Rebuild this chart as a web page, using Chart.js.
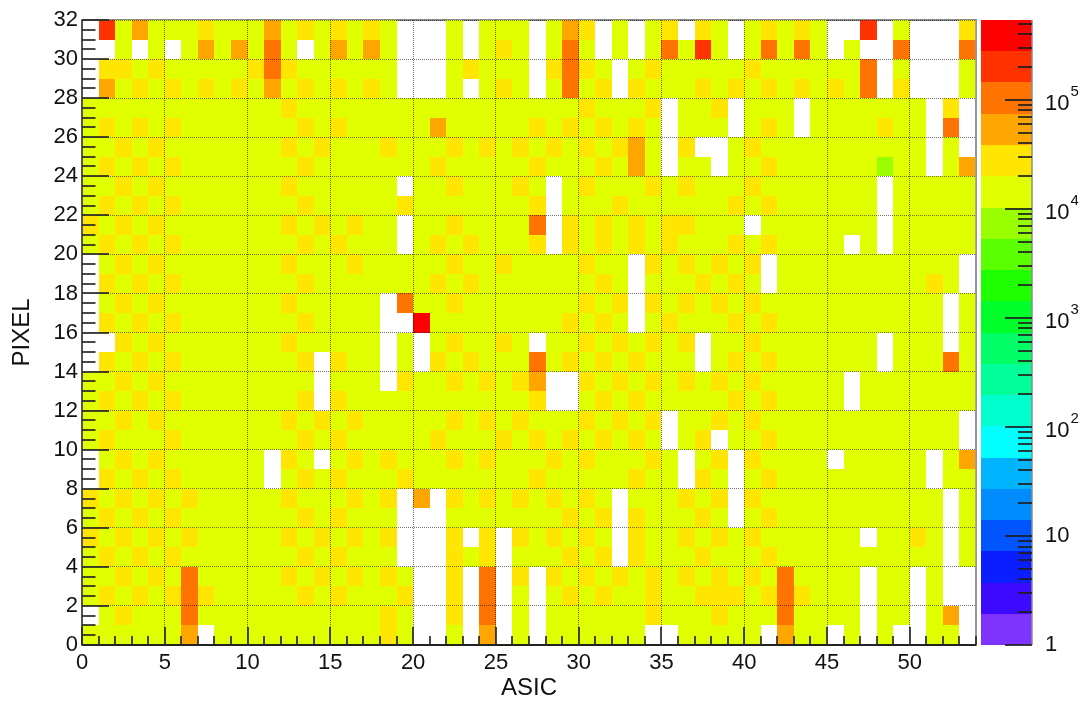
<!DOCTYPE html>
<html><head><meta charset="utf-8">
<script src="https://cdn.jsdelivr.net/npm/chart.js@4"></script>
<style>html,body{margin:0;padding:0;background:#fff;}canvas{display:block;}</style>
</head><body>
<canvas id="c" width="1081" height="701" style="width:1081px;height:701px"></canvas>
<script>
// ---- categories ----
const asics = Array.from({length: 54}, (_, i) => i);     // ASIC index 0..53
const pixels = Array.from({length: 32}, (_, i) => i);    // PIXEL index 0..31
// ---- tick labels ----
const xTickLabels = ['0','5','10','15','20','25','30','35','40','45','50'];
const yTickLabels = ['0','2','4','6','8','10','12','14','16','18','20','22','24','26','28','30','32'];
const zTickValues = [1, 10, 100, 1000, 10000, 100000];
const zTickBase = ['1','10','10','10','10','10'];
const zTickExp  = ['','','2','3','4','5'];
const levelValues = { w: 0, l: 8.0e3, g: 1.5e4, y: 2.8e4, a: 5.5e4, o: 1.05e5, r: 2.0e5, R: 3.8e5 };
// rows: PIXEL 31 (top) down to PIXEL 0 (bottom); one char per ASIC 0..53
const hitRows = [
  "wrgagggygg"+"gagygygygw"+"wwgwgggwga"+"ywgwgywygw"+"gygygwwrwg"+"wwwy", // 31
  "wwgwgwgaga"+"gogwgagagw"+"wwgwgygwgo"+"gwgwgogrgw"+"gogogwgwwo"+"wwwo", // 30
  "wyygyggggg"+"yoyggggggw"+"wwgygggwyo"+"ygwgyggggg"+"yggggggowg"+"wwwg", // 29
  "wagygygygy"+"gagygygygw"+"wwgwgygwgo"+"gywygggygy"+"gygygygowy"+"wwwg", // 28
  "gggggggggg"+"ggyggggggg"+"gggggggggg"+"ygggywggyw"+"gggwgggggg"+"gwyw", // 27
  "gygygygggg"+"gggygygggg"+"gagggggygy"+"gygygwgggw"+"gygwggggyg"+"gwow", // 26
  "ggygyggggg"+"ggygygggyg"+"ggygygygyg"+"ygyagwywwg"+"yggggggggg"+"gwgw", // 25
  "gygygygggg"+"gggygggggg"+"gygggggygg"+"gygagwggwg"+"gygggggglg"+"gwga", // 24
  "ggygyggggg"+"ggyggggggw"+"ggygggygwg"+"ygggygyggg"+"ygggggggwg"+"gggg", // 23
  "gygygygggg"+"gggygggggy"+"gggggggywg"+"ggyggggggy"+"gyggggggwg"+"gggg", // 22
  "ygygyggggg"+"ggygygyggw"+"ggyggggowy"+"gygygyyggg"+"wgggggggwg"+"gggg", // 21
  "gygygygggg"+"gggygygggw"+"gygygggywy"+"gygygygggy"+"gyggggwgwg"+"gggg", // 20
  "wgygyggggg"+"ggygggyggg"+"ggyggygggg"+"yggwygygyg"+"ywgggggggg"+"gggw", // 19
  "wygygygggg"+"gggygggggg"+"gygygggggg"+"gygwgggygy"+"gwgggggggg"+"gygw", // 18
  "wgygyggggg"+"ggygggggwo"+"ggyggggggg"+"ygywygygyg"+"yggggggggg"+"ggwg", // 17
  "wygygygggg"+"gggyggggww"+"Rggggggggy"+"gygwgygggy"+"gygggggggg"+"ggwg", // 16
  "wwygyggggg"+"ggygggggwg"+"wgyggygwgg"+"ygygygywgg"+"ygggggggwg"+"ggwg", // 15
  "wygygygggg"+"gggywyggwg"+"wygygggogy"+"gygygggwgy"+"gyggggggwg"+"ggog", // 14
  "ggygyggggg"+"ggggwgggwy"+"ggygygyaww"+"ygygygygyg"+"ygggggwggg"+"gggg", // 13
  "gygygygggg"+"gggywygggg"+"gggggggyww"+"gygygggggy"+"gyggggwggg"+"gggg", // 12
  "ggygyggggg"+"ggygygyggg"+"ggygygyggg"+"ygygywggyg"+"yggggggggg"+"gggw", // 11
  "gygggygggg"+"gggygygggg"+"gygggygygy"+"gygygwgywg"+"gygggggggg"+"gggw", // 10
  "wgygyggggg"+"gwygwgygyg"+"ggygygggyg"+"ygggygwgyw"+"yggggwgggg"+"gwga", // 9
  "wygygygggg"+"gwgygygggy"+"gggggggygg"+"gggyggwygw"+"gygggggggg"+"gwgg", // 8
  "ygygygyggg"+"ggygggygyw"+"awygygygyg"+"ygwgggygyw"+"yggggggggg"+"ggwg", // 7
  "gygygygggg"+"gggygygggw"+"wwgggggggy"+"gywygggygw"+"gygggggggg"+"ggwg", // 6
  "ygygygyggg"+"ggygygygyw"+"wwywywygyg"+"ygwyggygyg"+"yggggggwgg"+"ygwg", // 5
  "gygygygggg"+"gggygygggw"+"wwygywgggy"+"gywygggygg"+"gygggggggg"+"ggwg", // 4
  "ggygygoggg"+"ggygygygyg"+"wwywowywyg"+"ygygygygyg"+"ygoggggwgg"+"wgww", // 3
  "gygygyoygg"+"gggygygggy"+"wwywowgwgy"+"gyggyggyyy"+"gyoygggwgg"+"wgww", // 2
  "wgygggoggg"+"ggggggggyg"+"wwywowgwgg"+"ggggygggyg"+"ggoggggwgg"+"wgaw", // 1
  "ggggggawgg"+"ggggggggyg"+"wwgwawgwgg"+"ggggwwgggg"+"gwaggwgwgw"+"wggw"  // 0
];
// ---- colour scale ----
const zMin = 1, zMax = 5.4e5;
const palette = ['#7f33ff','#3c0aff','#0a1eff','#0055ff','#008cff','#00b4ff','#00ffff','#00ffcc','#00ff99','#00ff66',
                 '#00ff2a','#1eff00','#5cff00','#99ff00','#e0ff00','#ffe600','#ffa500','#ff7300','#ff3300','#ff0000'];

function colorFor(v) {
  let k = Math.floor(Math.log10(v) / Math.log10(zMax) * palette.length);
  k = Math.max(0, Math.min(palette.length - 1, k));
  return palette[k];
}

const cells = [];
hitRows.forEach((row, i) => {
  const pix = pixels[pixels.length - 1 - i];
  asics.forEach(a => {
    cells.push({ x: a + 0.5, y: pix + 0.5, v: levelValues[row[a]] });
  });
});

const FONT = 'Liberation Sans, Arial, Helvetica, sans-serif';

const heatmapPlugin = {
  id: 'heatmap',
  beforeDraw(chart) {
    const { ctx, chartArea: a, scales: { x, y } } = chart;
    ctx.save();
    ctx.strokeStyle = '#8c8c8c';
    ctx.lineWidth = 2;
    ctx.strokeRect(a.left, a.top, a.right - a.left, a.bottom - a.top);
    for (const p of chart.data.datasets[0].data) {
      if (!(p.v > 0)) continue;
      const x0 = Math.round(x.getPixelForValue(p.x - 0.5));
      const x1 = Math.round(x.getPixelForValue(p.x + 0.5));
      const y0 = Math.round(y.getPixelForValue(p.y + 0.5));
      const y1 = Math.round(y.getPixelForValue(p.y - 0.5));
      ctx.fillStyle = colorFor(p.v);
      ctx.fillRect(x0, y0, x1 - x0, y1 - y0);
    }
    ctx.restore();
  },
  afterDraw(chart) {
    const { ctx, chartArea: a, scales: { x, y, z } } = chart;
    ctx.save();
    // right frame
    ctx.strokeStyle = '#9a9a9a'; ctx.lineWidth = 1.5;
    ctx.beginPath(); ctx.moveTo(a.right, a.top); ctx.lineTo(a.right, a.bottom); ctx.stroke();
    // axis lines
    ctx.strokeStyle = '#555'; ctx.lineWidth = 2;
    ctx.beginPath(); ctx.moveTo(a.left, a.top); ctx.lineTo(a.left, a.bottom); ctx.stroke();
    ctx.strokeStyle = '#222';
    ctx.beginPath(); ctx.moveTo(a.left, a.bottom); ctx.lineTo(a.right, a.bottom); ctx.stroke();
    // inward ticks, x axis
    ctx.strokeStyle = 'rgba(40,40,40,0.85)'; ctx.lineWidth = 2;
    for (let v = 0; v <= 54; v++) {
      const px = Math.round(x.getPixelForValue(v));
      const len = v % 5 === 0 ? 18 : 9;
      ctx.beginPath(); ctx.moveTo(px, a.bottom); ctx.lineTo(px, a.bottom - len); ctx.stroke();
    }
    // inward ticks, y axis
    for (let v = 0; v <= 32; v += 0.5) {
      const py = Math.round(y.getPixelForValue(v));
      const len = v % 2 === 0 ? 27 : 13.5;
      ctx.beginPath(); ctx.moveTo(a.left, py); ctx.lineTo(a.left + len, py); ctx.stroke();
    }
    // colour bar
    const bx0 = z.left + 5, bx1 = z.left + 56;
    const nb = palette.length, lmax = Math.log10(zMax);
    for (let k = 0; k < nb; k++) {
      const yb = Math.round(z.getPixelForValue(Math.pow(10, k * lmax / nb)));
      const yt = Math.round(z.getPixelForValue(Math.pow(10, (k + 1) * lmax / nb)));
      ctx.fillStyle = palette[k];
      ctx.fillRect(bx0, yt, bx1 - bx0, yb - yt);
    }
    ctx.strokeStyle = '#8c8c8c'; ctx.lineWidth = 1.5;
    ctx.beginPath(); ctx.moveTo(bx1, z.top); ctx.lineTo(bx1, z.bottom); ctx.stroke();
    ctx.strokeStyle = 'rgba(30,30,30,0.85)'; ctx.lineWidth = 2;
    for (let e = 0; e <= 5; e++) {
      for (let m = 1; m <= 9; m++) {
        const v = m * Math.pow(10, e);
        if (v > zMax) break;
        const py = Math.round(z.getPixelForValue(v));
        const len = m === 1 ? 27 : 14;
        ctx.beginPath(); ctx.moveTo(bx1, py); ctx.lineTo(bx1 - len, py); ctx.stroke();
      }
    }
    // colour bar labels
    ctx.fillStyle = '#111';
    ctx.textBaseline = 'middle';
    ctx.textAlign = 'left';
    zTickValues.forEach((v, i) => {
      const py = z.getPixelForValue(v);
      const lx = bx1 + 13;
      ctx.font = '22px ' + FONT;
      if (zTickExp[i]) {
        ctx.fillText(zTickBase[i], lx, py + 4);
        const w = ctx.measureText(zTickBase[i]).width;
        ctx.font = '15px ' + FONT;
        ctx.fillText(zTickExp[i], lx + w + 1, py - 8);
      } else {
        ctx.fillText(zTickBase[i], lx, py);
      }
    });
    ctx.restore();
  }
};

new Chart(document.getElementById('c'), {
  type: 'scatter',
  data: { datasets: [{ label: 'hits', data: cells, xAxisID: 'x', yAxisID: 'y', pointRadius: 0, pointHoverRadius: 0 }] },
  options: {
    responsive: false,
    animation: false,
    events: [],
    layout: { padding: { top: 20, left: 0, right: 0, bottom: 0 } },
    plugins: { legend: { display: false }, tooltip: { enabled: false } },
    scales: {
      x: {
        type: 'linear', position: 'bottom', min: 0, max: 54, bounds: 'data',
        ticks: { stepSize: 5, includeBounds: false, autoSkip: false, maxRotation: 0,
                 padding: 5, color: '#111', font: { family: FONT, size: 22 },
                 callback: (v, i) => xTickLabels[i] },
        grid: { drawTicks: false, color: 'rgba(0,0,0,0.55)', lineWidth: 1 },
        border: { display: false, dash: [1, 1] },
        title: { display: true, text: 'ASIC', color: '#111',
                 font: { family: FONT, size: 24, lineHeight: 1 }, padding: { top: 0, bottom: 1 } },
        afterFit: s => { s.height = 56; }
      },
      y: {
        type: 'linear', position: 'left', min: 0, max: 32, bounds: 'data',
        ticks: { stepSize: 2, autoSkip: false, padding: 4, color: '#111', font: { family: FONT, size: 22 },
                 callback: (v, i) => yTickLabels[i] },
        grid: { drawTicks: false, color: 'rgba(0,0,0,0.55)', lineWidth: 1 },
        border: { display: false, dash: [1, 1] },
        title: { display: true, text: 'PIXEL', color: '#111',
                 font: { family: FONT, size: 24, lineHeight: 1 }, padding: { top: 10, bottom: 0 } },
        afterFit: s => { s.width = 82; }
      },
      z: {
        type: 'logarithmic', position: 'right', min: zMin, max: zMax, bounds: 'data',
        ticks: { display: false },
        grid: { display: false },
        border: { display: false },
        afterFit: s => { s.width = 105; }
      }
    }
  },
  plugins: [heatmapPlugin]
});
</script>
</body></html>
